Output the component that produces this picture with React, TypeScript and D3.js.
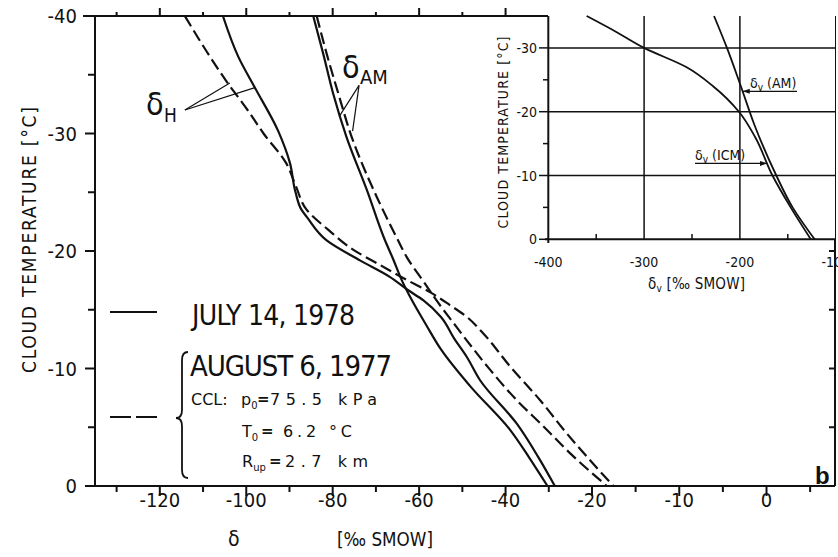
import React from 'react';
import * as d3 from 'd3';

// [cloud temperature °C, delta ‰ SMOW]
type Pt = [number, number];

// main panel, deuterium profiles
const hJuly: Pt[] = [
  [-40, -105.4], [-36.5, -101.8], [-33.9, -98], [-30.2, -92.6], [-27.5, -89.9],
  [-25, -88.6], [-23.5, -87.2], [-22.9, -86], [-20.9, -81.4], [-19.2, -73.7],
  [-17.8, -66.8], [-16.7, -62.7], [-15.8, -59], [-14.4, -55], [-12.5, -51.8],
  [-11, -49], [-9, -45.9], [-5.3, -37.4], [-2.5, -32.5], [0, -28.6],
];
const hAug: Pt[] = [
  [-40, -114.2], [-37, -109.2], [-34.4, -104.5], [-32, -99.7], [-30, -96],
  [-27.5, -90.8], [-25.5, -88.5], [-23.5, -86], [-21.8, -81], [-20.1, -75.2],
  [-18.8, -69], [-17.7, -63.7], [-16.5, -57.5], [-15.4, -52.9], [-14.4, -49],
  [-13, -45.2], [-10.2, -39], [-7.3, -32], [-4.5, -25.9], [-2.5, -21.2], [0, -17.55],
];
const amJuly: Pt[] = [
  [-40, -84.5], [-36.8, -82.2], [-33.4, -79.9], [-29.7, -76.8], [-25.2, -72.1],
  [-21, -68], [-19.3, -66], [-17.5, -64], [-16.1, -62.1], [-13.6, -58.2],
  [-11.6, -54.9], [-8.5, -48.2], [-4.8, -39], [-2.4, -34.5], [0, -30.3],
];
const amAug: Pt[] = [
  [-40, -83.7], [-36.8, -81.4], [-33.4, -78.7], [-29.7, -75.6], [-24.6, -69.8],
  [-21, -65], [-19.5, -62.9], [-17.3, -58.8], [-15.6, -55.6], [-13.9, -52.1],
  [-12.4, -49], [-9.9, -43.6], [-7.3, -37.4], [-5.1, -31.3], [-2.8, -25.1], [0, -18.3],
];

// inset, vapour
const vICM: Pt[] = [
  [-35, -360], [-32.5, -329], [-30, -300], [-27, -256], [-24, -228], [-20, -201],
  [-16, -184], [-10, -166], [-5, -147], [0, -126],
];
const vAM: Pt[] = [
  [-35, -227], [-30, -213.5], [-24, -199], [-18, -185], [-10, -162], [-5, -145], [0, -122],
];

const xMajor = [-120, -100, -80, -60, -40, -20, -10, 0];
const xMinor = [-130, -110, -90, -70, -50, -30, -15, -5, 5];
const yMajor = [-40, -30, -20, -10, 0];
const yMinor = [-35, -25, -15, -5];
const rightTicks = [-20, -15, -10, -5];
const insetXMajor = [-400, -300, -200, -100];
const insetXMinor = [-350, -250, -150];
const insetYMajor = [0, -10, -20, -30];
const insetYMinor = [-5, -15, -25];

// label anchors in data units: [T, delta]
const hLabelFrom: Pt = [-32, -114.2];
const hLabelTo: Pt[] = [[-34.3, -103.8], [-33.9, -98]];
const amLabelFrom: Pt = [-34.1, -73.9];
const amLabelTo: Pt[] = [[-31.5, -78.4], [-30.2, -75.4]];

const FONT = "'Liberation Sans Narrow', 'DejaVu Sans Condensed', 'Liberation Sans', sans-serif";
const WIDE = "'DejaVu Sans', sans-serif";
const fmt = (v: number) => (v === 0 ? '0' : v < 0 ? `-${-v}` : `${v}`);

export default function App() {
  const x = d3.scaleLinear().domain([-135, -20, 7.85]).range([95, 592, 835]);
  const y = d3.scaleLinear().domain([-40, 0]).range([16, 486]);
  const ix = d3.scaleLinear().domain([-400, -100]).range([548.3, 835.7]);
  const iy = d3.scaleLinear().domain([0, -35]).range([239.3, 16]);

  const line = d3.line<Pt>().x(d => x(d[1])).y(d => y(d[0])).curve(d3.curveMonotoneY);
  const iline = d3.line<Pt>().x(d => ix(d[1])).y(d => iy(d[0])).curve(d3.curveMonotoneY);

  const ink = '#111';
  const dash = '12 5';
  const topTicks = [...xMajor, ...xMinor].filter(v => v <= -40);

  const amTip: [number, number] = [ix(-197), iy(-23.2)];
  const icmTip: [number, number] = [ix(-171.7), iy(-11.9)];

  return (
    <svg width={838} height={557} style={{ position: 'absolute', left: 0, top: 0, background: '#fff' }}
      fontFamily={FONT} fill={ink}>
      {/* curves */}
      <g fill="none" stroke={ink} strokeWidth={2.2}>
        <path d={line(hJuly) || ''} />
        <path d={line(amJuly) || ''} />
        <path d={line(hAug) || ''} strokeDasharray={dash} />
        <path d={line(amAug) || ''} strokeDasharray={dash} />
      </g>

      {/* frame */}
      <g stroke={ink} strokeWidth={2} fill="none">
        <line x1={83} x2={548} y1={16} y2={16} />
        <line x1={95} x2={95} y1={16} y2={487} />
        <line x1={86} x2={835} y1={486} y2={486} />
        <line x1={835} x2={835} y1={16} y2={486} />
        {topTicks.map(v => (
          <line key={'t' + v} x1={x(v)} x2={x(v)} y1={16} y2={xMajor.includes(v) ? 8 : 12} />
        ))}
        {xMajor.map(v => <line key={'b' + v} x1={x(v)} x2={x(v)} y1={486} y2={496} />)}
        {xMinor.map(v => <line key={'m' + v} x1={x(v)} x2={x(v)} y1={486} y2={492} />)}
        {yMajor.map(v => <line key={'l' + v} x1={85} x2={95} y1={y(v)} y2={y(v)} />)}
        {yMinor.map(v => <line key={'n' + v} x1={88} x2={95} y1={y(v)} y2={y(v)} />)}
        {rightTicks.map(v => <line key={'r' + v} x1={829} x2={835} y1={y(v)} y2={y(v)} />)}
      </g>

      {/* tick labels */}
      <g fontSize={20}>
        {xMajor.map(v => (
          <text key={'xl' + v} x={x(v)} y={507} textAnchor="middle">{fmt(v)}</text>
        ))}
        {yMajor.map(v => (
          <text key={'yl' + v} x={77} y={y(v) + 7} textAnchor="end">{fmt(v)}</text>
        ))}
      </g>

      {/* axis titles */}
      <text transform="translate(36,240) rotate(-90)" textAnchor="middle" fontSize={19}
        textLength={266} lengthAdjust="spacing">CLOUD  TEMPERATURE  [°C]</text>
      <text x={228} y={546} fontSize={21}>δ</text>
      <text x={337} y={546} fontSize={20} textLength={96} lengthAdjust="spacingAndGlyphs">[‰ SMOW]</text>

      {/* curve labels */}
      <g stroke={ink} strokeWidth={1.2}>
        {hLabelTo.map((p, i) => (
          <line key={'ha' + i} x1={x(hLabelFrom[1])} y1={y(hLabelFrom[0])} x2={x(p[1])} y2={y(p[0])} />
        ))}
        {amLabelTo.map((p, i) => (
          <line key={'aa' + i} x1={x(amLabelFrom[1])} y1={y(amLabelFrom[0])} x2={x(p[1])} y2={y(p[0])} />
        ))}
      </g>
      <text x={146} y={115} fontSize={32}>δ</text>
      <text x={164} y={122} fontSize={19}>H</text>
      <text x={342} y={78} fontSize={32}>δ</text>
      <text x={360} y={84} fontSize={20}>AM</text>

      {/* legend */}
      <line x1={110} x2={157} y1={312} y2={312} stroke={ink} strokeWidth={2} />
      <line x1={110} x2={157} y1={417} y2={417} stroke={ink} strokeWidth={2} strokeDasharray="21 5" />
      <text x={192} y={325} fontSize={28} textLength={163} lengthAdjust="spacing">JULY 14, 1978</text>
      <path d="M188,352 Q182,352 182,360 L182,410 Q182,418 176,418 Q182,418 182,426 L182,470 Q182,478 188,478"
        fill="none" stroke={ink} strokeWidth={1.8} />
      <text x={190} y={376} fontSize={29} textLength={202} lengthAdjust="spacing">AUGUST 6, 1977</text>
      <g fontSize={16} fontFamily={WIDE}>
        <text x={191} y={405}>CCL:</text>
        <text x={241} y={405}>p<tspan fontSize={10} dy={4}>0</tspan></text>
        <text x={257} y={404} fontWeight="bold" fontSize={15}>=</text>
        <text x={270} y={405} textLength={107} lengthAdjust="spacing">75.5 kPa</text>
        <text x={242} y={437}>T<tspan fontSize={10} dy={4}>0</tspan></text>
        <text x={261} y={436} fontWeight="bold" fontSize={15}>=</text>
        <text x={283} y={437} textLength={69} lengthAdjust="spacing">6.2 °C</text>
        <text x={242} y={467}>R<tspan fontSize={10} dy={4}>up</tspan></text>
        <text x={269} y={466} fontWeight="bold" fontSize={15}>=</text>
        <text x={285} y={467} textLength={83} lengthAdjust="spacing">2.7 km</text>
      </g>
      <text x={815} y={484} fontSize={24} fontWeight="bold" fontFamily="'Liberation Sans', sans-serif">b</text>

      {/* inset */}
      <rect x={548.3} y={16} width={286.7} height={223.3} fill="#fff" />
      <g stroke={ink} strokeWidth={1.5} fill="none">
        {insetXMajor.slice(1, 3).map(v => (
          <line key={'ig' + v} x1={ix(v)} x2={ix(v)} y1={16} y2={239.3} />
        ))}
        {insetYMajor.slice(1).map(v => (
          <line key={'ih' + v} x1={548.3} x2={835} y1={iy(v)} y2={iy(v)} />
        ))}
        {insetYMajor.map(v => <line key={'iy' + v} x1={539} x2={548.3} y1={iy(v)} y2={iy(v)} />)}
        {insetYMinor.map(v => <line key={'iym' + v} x1={543} x2={548.3} y1={iy(v)} y2={iy(v)} />)}
        {insetXMinor.map(v => <line key={'ixm' + v} x1={ix(v)} x2={ix(v)} y1={239.3} y2={234} />)}
      </g>
      <g stroke={ink} strokeWidth={2} fill="none">
        <line x1={548.3} x2={548.3} y1={16} y2={243} />
        <line x1={545} x2={835} y1={239.3} y2={239.3} />
      </g>
      <g fill="none" stroke={ink} strokeWidth={1.8}>
        <path d={iline(vICM) || ''} />
        <path d={iline(vAM) || ''} />
      </g>
      <g fontSize={14}>
        {insetYMajor.map(v => (
          <text key={'iyl' + v} x={537} y={iy(v) + 5} textAnchor="end">{fmt(v)}</text>
        ))}
        {insetXMajor.map(v => (
          <text key={'ixl' + v} x={ix(v)} y={267} textAnchor="middle">{fmt(v)}</text>
        ))}
      </g>
      <text transform="translate(508,132.5) rotate(-90)" textAnchor="middle" fontSize={14}
        textLength={192} lengthAdjust="spacing">CLOUD  TEMPERATURE  [°C]</text>
      <text x={648} y={289} fontSize={15} textLength={97} lengthAdjust="spacing">
        δ<tspan fontSize={10} dy={3}>v</tspan><tspan dy={-3}> [‰ SMOW]</tspan>
      </text>

      {/* inset curve labels */}
      <text x={750} y={88} fontSize={14}>δ<tspan fontSize={10} dy={3}>v</tspan><tspan dy={-3}> (AM)</tspan></text>
      <line x1={797} x2={amTip[0]} y1={amTip[1]} y2={amTip[1]} stroke={ink} strokeWidth={1.2} />
      <path d={`M${amTip[0]},${amTip[1]} l7,-2.5 l0,5 Z`} fill={ink} />
      <text x={695} y={160} fontSize={14}>δ<tspan fontSize={10} dy={3}>v</tspan><tspan dy={-3}> (ICM)</tspan></text>
      <line x1={695} x2={icmTip[0]} y1={icmTip[1]} y2={icmTip[1]} stroke={ink} strokeWidth={1.2} />
      <path d={`M${icmTip[0]},${icmTip[1]} l-7,-2.5 l0,5 Z`} fill={ink} />
    </svg>
  );
}
